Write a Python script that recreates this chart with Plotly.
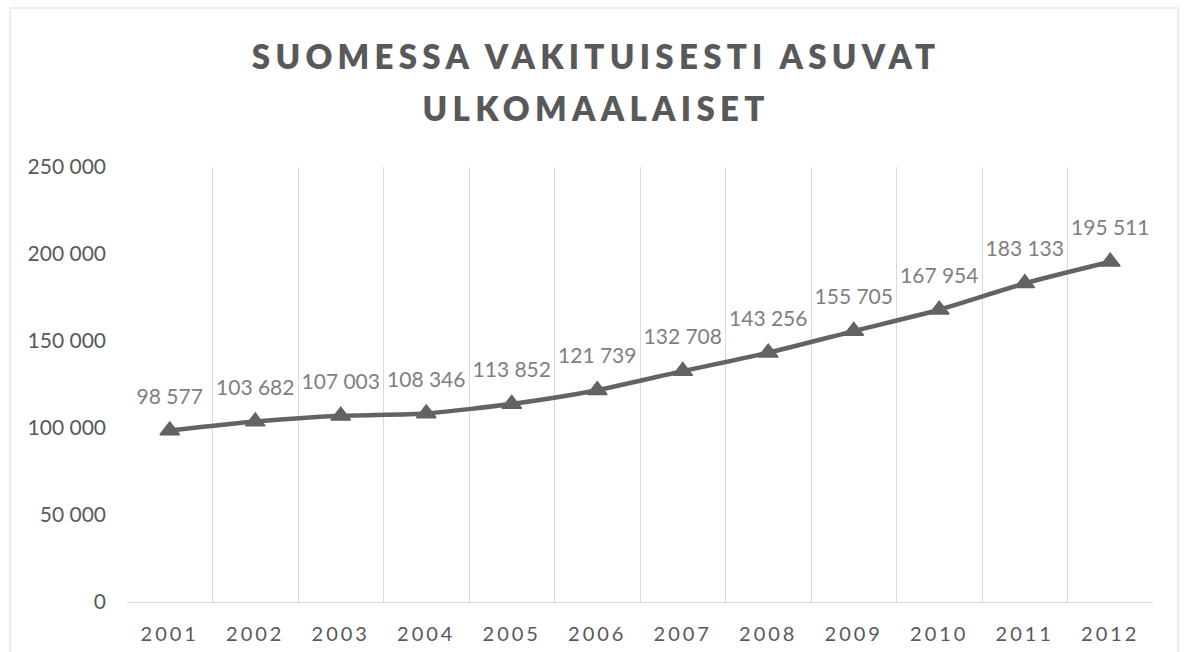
import plotly.graph_objects as go

years = ['2001', '2002', '2003', '2004', '2005', '2006',
         '2007', '2008', '2009', '2010', '2011', '2012']
values = [98577, 103682, 107003, 108346, 113852, 121739,
          132708, 143256, 155705, 167954, 183133, 195511]
title_lines = ['SUOMESSA VAKITUISESTI ASUVAT', 'ULKOMAALAISET']

W, H = 1187, 652
L, R, T, B = 127, 34, 167, 50
pw, ph = W - L - R, H - T - B

def px_x(x):
    return (x - L) / pw

def px_y(y):
    return (H - B - y) / ph

fig = go.Figure()
fig.add_trace(go.Scatter(
    x=years, y=values,
    mode='lines+markers',
    line=dict(color='#636363', width=4.5, shape='spline', smoothing=0.6),
    marker=dict(symbol='triangle-up', size=17, color='#636363',
                line=dict(color='#636363', width=1.5)),
    cliponaxis=False, hoverinfo='x+y', showlegend=False,
))
# data labels (invisible marker sets label offset above each point)
fig.add_trace(go.Scatter(
    x=years, y=values,
    mode='markers+text',
    marker=dict(size=33, opacity=0),
    texttemplate='%{y:,}', textposition='top center',
    textfont=dict(family='Lato', size=21, color='#7f7f7f'),
    cliponaxis=False, hoverinfo='skip', showlegend=False,
))

fig.update_layout(
    width=W, height=H,
    margin=dict(l=L, r=R, t=T, b=B, pad=0, autoexpand=False),
    paper_bgcolor='white', plot_bgcolor='white',
    separators=', ',
    font=dict(family='Lato', color='#595959'),
    xaxis=dict(type='category', tickson='boundaries', range=[-0.5, 11.5],
               automargin=False,
               showgrid=True, gridcolor='#d9d9d9', gridwidth=1,
               showline=True, linecolor='#d9d9d9', linewidth=1,
               ticks='', zeroline=False, ticklabelstandoff=14,
               tickfont=dict(family='Lato', size=20, color='#595959')),
    yaxis=dict(range=[0, 250000], dtick=50000, tickformat=',',
               automargin=False,
               showgrid=False, zeroline=False, showline=False, ticks='',
               ticklabelstandoff=20,
               tickfont=dict(family='Lato', size=21, color='#595959')),
    shapes=[dict(type='rect', xref='paper', yref='paper',
                 x0=px_x(10), x1=px_x(1178), y0=px_y(700), y1=px_y(8),
                 line=dict(color='#d9d9d9', width=1), layer='below')],
    annotations=[
        dict(text=title_lines[0], xref='paper', yref='paper',
             x=px_x(596), y=px_y(56), xanchor='center', yanchor='middle',
             showarrow=False,
             font=dict(family='Lato', size=33, color='#595959', weight=800)),
        dict(text=title_lines[1], xref='paper', yref='paper',
             x=px_x(596), y=px_y(108), xanchor='center', yanchor='middle',
             showarrow=False,
             font=dict(family='Lato', size=33, color='#595959', weight=800)),
    ],
)

post = """
(function(){
  document.body.style.margin = '0';
  function fix(){
    document.body.style.margin = '0';
    document.querySelectorAll('.annotation-text').forEach(function(e){e.style.letterSpacing='5.3px';});
    document.querySelectorAll('.xtick text').forEach(function(e){e.style.letterSpacing='3px';});
  }
  fix(); setTimeout(fix, 50); setTimeout(fix, 300);
  var gd = document.getElementById('{plot_id}');
  if (gd && gd.on) { gd.on('plotly_afterplot', fix); }
})();
"""

fig.write_html('out.html', post_script=post, config={'displayModeBar': False})
